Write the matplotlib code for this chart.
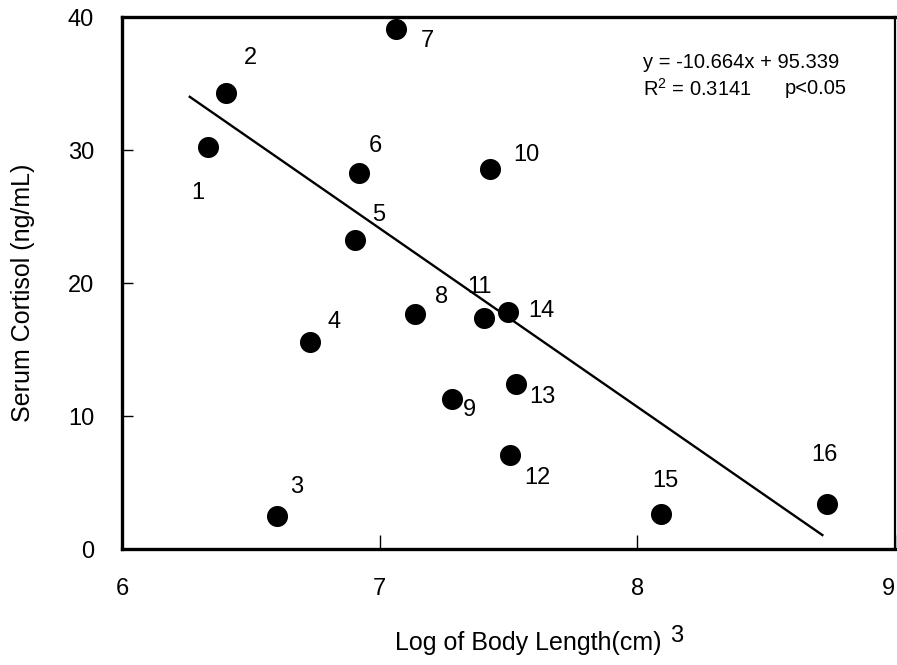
import matplotlib
matplotlib.use("Agg")
import matplotlib.pyplot as plt
from matplotlib.transforms import ScaledTranslation

plt.rcParams['font.family'] = ['Liberation Sans', 'DejaVu Sans']
plt.rcParams['mathtext.fontset'] = 'custom'
plt.rcParams['mathtext.rm'] = 'Liberation Sans'

# Fish samples: log body length vs serum cortisol
sample_ids = [str(i) for i in range(1, 17)]
log_length = [6.332, 6.405, 6.602, 6.730, 6.903, 6.919, 7.062, 7.139,
              7.280, 7.430, 7.405, 7.506, 7.530, 7.498, 8.093, 8.737]
cortisol = [30.2, 34.3, 2.5, 15.6, 23.2, 28.3, 39.1, 17.7,
            11.3, 28.6, 17.4, 7.1, 12.4, 17.8, 2.6, 3.4]

# Label offsets (points) for each sample number
label_dx = [-7, 17, 14, 17, 17, 12, 23, 19, 13, 26, -3, 20, 19, 24, 3, -2]
label_dy = [-33, 25, 21, 14, 18, 19, -9, 12, -8, 10, 22, -17, -9, 1, 24, 35]

# Fitted regression line endpoints
fit_x = [6.263, 8.718]
fit_y = [34.0, 1.05]

fig = plt.figure(figsize=(8.97, 6.65), dpi=100)
ax = fig.add_axes([0.136, 0.1744, 0.8618, 0.80])

ax.plot(fit_x, fit_y, color='black', lw=1.7, zorder=2)
ax.scatter(log_length, cortisol, s=230, color='black', zorder=3, linewidths=0)

for sid, x, y, dx, dy in zip(sample_ids, log_length, cortisol, label_dx, label_dy):
    ax.annotate(sid, (x, y), xytext=(dx, dy), textcoords='offset points',
                ha='center', va='center', fontsize=17)

ax.set_xlim(6, 9)
ax.set_ylim(0, 40)
ax.set_xticks([6, 7, 8, 9])
ax.set_yticks([0, 10, 20, 30, 40])
ax.tick_params(direction='in', width=1, labelsize=17)
ax.tick_params(axis='x', length=10, pad=21)
ax.tick_params(axis='y', length=8, pad=20)

# keep the last x tick label inside the figure edge
last = ax.get_xticklabels()[-1]
last.set_transform(last.get_transform() + ScaledTranslation(-7 / 100, 0, fig.dpi_scale_trans))

for side in ['left', 'bottom', 'top']:
    ax.spines[side].set_linewidth(2.4)
ax.spines['right'].set_linewidth(1.6)

fig.text(23 / 897, 1 - 293 / 665, 'Serum Cortisol (ng/mL)', fontsize=18,
         rotation=90, ha='center', va='center')
fig.text(528 / 897, 1 - 643 / 665, 'Log of Body Length(cm)', fontsize=18,
         ha='center', va='center')
fig.text(677 / 897, 1 - 636 / 665, '3', fontsize=17, ha='center', va='center')

fig.text(643 / 897, 1 - 62 / 665, 'y = -10.664x + 95.339', fontsize=14.5,
         ha='left', va='center')
fig.text(643 / 897, 1 - 89 / 665, r'R$^{\mathrm{2}}$ = 0.3141', fontsize=14.5,
         ha='left', va='center')
fig.text(785 / 897, 1 - 89 / 665, 'p<0.05', fontsize=14.5, ha='left', va='center')

fig.savefig('out.png', dpi=100)
